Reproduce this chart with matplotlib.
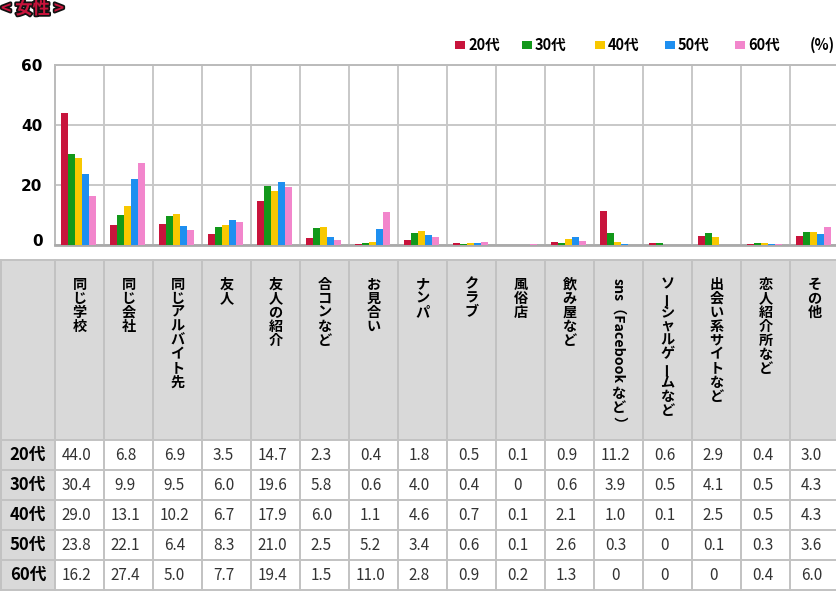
import matplotlib
matplotlib.use('Agg')
import matplotlib.pyplot as plt
from matplotlib.patches import Rectangle
import matplotlib.patheffects as pe
import matplotlib.transforms as mtransforms

plt.rcParams['font.family'] = ['Noto Sans CJK JP', 'DejaVu Sans']

title = '< 女性 >'
unit = '(%)'
categories = ['同じ学校', '同じ会社', '同じアルバイト先', '友人', '友人の紹介', '合コンなど',
              'お見合い', 'ナンパ', 'クラブ', '風俗店', '飲み屋など', 'sns（Facebook など）',
              'ソーシャルゲームなど', '出会い系サイトなど', '恋人紹介所など', 'その他']
series = ['20代', '30代', '40代', '50代', '60代']
v20 = [44.0, 6.8, 6.9, 3.5, 14.7, 2.3, 0.4, 1.8, 0.5, 0.1, 0.9, 11.2, 0.6, 2.9, 0.4, 3.0]
v30 = [30.4, 9.9, 9.5, 6.0, 19.6, 5.8, 0.6, 4.0, 0.4, 0, 0.6, 3.9, 0.5, 4.1, 0.5, 4.3]
v40 = [29.0, 13.1, 10.2, 6.7, 17.9, 6.0, 1.1, 4.6, 0.7, 0.1, 2.1, 1.0, 0.1, 2.5, 0.5, 4.3]
v50 = [23.8, 22.1, 6.4, 8.3, 21.0, 2.5, 5.2, 3.4, 0.6, 0.1, 2.6, 0.3, 0, 0.1, 0.3, 3.6]
v60 = [16.2, 27.4, 5.0, 7.7, 19.4, 1.5, 11.0, 2.8, 0.9, 0.2, 1.3, 0, 0, 0, 0.4, 6.0]
values = [v20, v30, v40, v50, v60]
colors = ['#c8143c', '#12981a', '#f8c800', '#1e8ff0', '#f286cc']
yticks = [0, 20, 40, 60]

W, H = 837, 591
fig = plt.figure(figsize=(W / 100, H / 100), dpi=100)
bg = fig.add_axes([0, 0, 1, 1])
bg.set_xlim(0, W)
bg.set_ylim(H, 0)
bg.axis('off')

# ---- title
bg.text(1, 9, title, color='#c8143c', fontsize=12.5, fontweight='bold', ha='left', va='center',
        path_effects=[pe.withStroke(linewidth=2.5, foreground='#111111')])

# ---- chart
x0, colw = 55, 49
ncat = len(categories)
ax = fig.add_axes([x0 / W, 1 - 245 / H, colw * ncat / W, 180 / H])
ax.set_xlim(0, ncat)
ax.set_ylim(0, 60)
w = 0.143
for j, vals in enumerate(values):
    xs = [i + 0.48 + (j - 2) * w for i in range(ncat)]
    ax.bar(xs, vals, width=w, color=colors[j], zorder=3, linewidth=0)
ax.set_xticks(range(1, ncat))
ax.set_xticklabels([])
ax.set_yticks(yticks)
ax.set_yticklabels([str(t) for t in yticks], fontsize=11, fontweight='bold', family='DejaVu Sans')
ax.tick_params(length=0, pad=9)
ax.grid(True, color='#c8c8c8', linewidth=1.4, zorder=0)
ax.set_axisbelow(True)
for s in ['left', 'top', 'right']:
    ax.spines[s].set_color('#bbbbbb')
    ax.spines[s].set_linewidth(1.4)
ax.spines['bottom'].set_color('#aaaaaa')
ax.spines['bottom'].set_linewidth(2)
lab0 = ax.get_yticklabels()[0]
lab0.set_transform(lab0.get_transform() + mtransforms.ScaledTranslation(0, 0.05, fig.dpi_scale_trans))

# ---- legend
leg_x = [455, 522, 595, 665, 735]
for lx, name, c in zip(leg_x, series, colors):
    bg.add_patch(Rectangle((lx, 41), 10, 8, color=c, lw=0))
    bg.text(lx + 13, 45, name, fontsize=10.5, fontweight='bold', ha='left', va='center')
bg.text(810, 45, unit, fontsize=10.5, fontweight='bold', ha='left', va='center')

# ---- table
hdr_top, hdr_bot, rowh = 260, 440, 30
edges = [0] + [x0 + colw * k for k in range(ncat + 1)]
gray = '#d9d9d9'
line = '#c2c2c2'
bg.add_patch(Rectangle((0, hdr_top), W, hdr_bot - hdr_top, color=gray, lw=0, zorder=1))
bg.add_patch(Rectangle((0, hdr_bot), x0, rowh * len(series), color=gray, lw=0, zorder=1))
ys = [hdr_top, hdr_bot] + [hdr_bot + rowh * (r + 1) for r in range(len(series))]
for y in ys:
    bg.plot([0, W], [y, y], color=line, lw=1.4, zorder=2, solid_capstyle='butt')
for x in edges:
    bg.plot([x + (0.7 if x == 0 else 0), x + (0.7 if x == 0 else 0)], [hdr_top, ys[-1]],
            color=line, lw=1.4, zorder=2)

pitch = 14
fs_h = 10.2
renderer = fig.canvas.get_renderer()
for i, cat in enumerate(categories):
    cx = x0 + colw * i + colw / 2
    if cat.startswith('sns'):
        t = bg.text(cx, 278, 'sns（Facebook', rotation=-90, ha='center', va='top',
                    fontsize=fs_h, fontweight='bold', zorder=3)
        bb = t.get_window_extent(renderer)
        yend = H - bb.y0
        for k, ch in enumerate('など'):
            bg.text(cx, yend + 11 + k * pitch, ch, ha='center', va='center',
                    fontsize=fs_h, fontweight='bold', zorder=3)
        bg.text(cx, yend + 2 * pitch + 5, '）', rotation=-90, ha='center', va='top',
                fontsize=fs_h, fontweight='bold', zorder=3)
        continue
    for k, ch in enumerate(cat):
        rot = 90 if ch == 'ー' else 0
        bg.text(cx, 284.5 + k * pitch, ch, ha='center', va='center', rotation=rot,
                fontsize=fs_h, fontweight='bold', zorder=3)

for r, (name, vals) in enumerate(zip(series, values)):
    cy = hdr_bot + rowh * r + rowh / 2
    bg.text(28, cy, name, ha='center', va='center', fontsize=12, fontweight='bold', zorder=3)
    for i, v in enumerate(vals):
        cx = x0 + colw * i + colw / 2 - 3
        txt = '0' if v == 0 else f'{v:.1f}'
        bg.text(cx, cy, txt, ha='center', va='center', fontsize=11, color='#333333', zorder=3)

fig.savefig('out.png', dpi=100)
